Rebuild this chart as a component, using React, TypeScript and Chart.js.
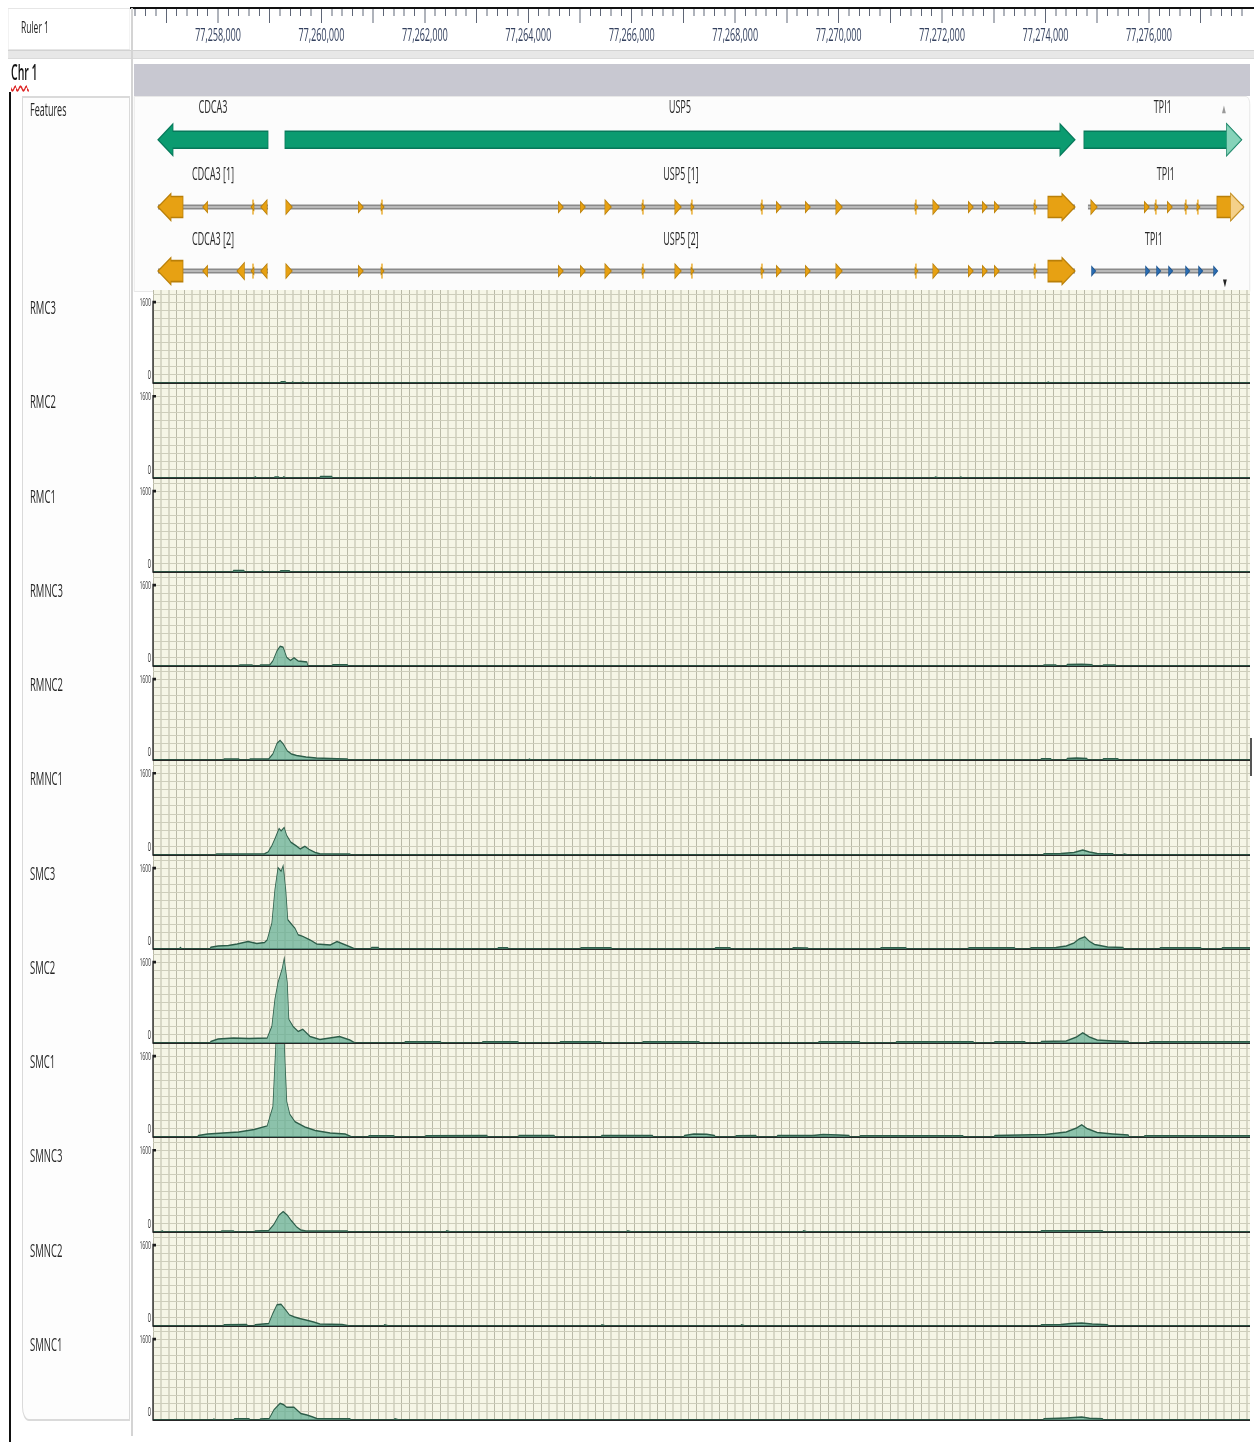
import React, { useEffect, useRef } from 'react';
import { Chart, registerables } from 'chart.js';

Chart.register(...registerables);

// The reference screenshot is horizontally condensed; we lay out in "inner" pixels and squeeze.
const K = 0.5;
const sx = (x: number) => x / K;
const FONT = "'Open Sans', 'Noto Sans', 'DejaVu Sans', sans-serif";
Chart.defaults.font.family = FONT;

// ---------------- data ----------------
const BASE = 77256000; // coverage positions are kb offsets from here
const X_MIN_FULL = 77256376;
const X_MIN_TRACK = 77256743;
const X_MAX = 77277954;

const RULER_LABELS = [77258000, 77260000, 77262000, 77264000, 77266000, 77268000, 77270000, 77272000, 77274000, 77276000];
const RULER_MINOR_STEP = 200;
const RULER_MAJOR_STEP = 1000;

const Y_MAX = 1840;
const Y_LABELS = [0, 1600];
const Y_GRID_STEP = 160;
const X_GRID_STEP = 150;

// genes
const GENE_NAMES = ['CDCA3', 'USP5', 'TPI1'];
const GENE_START = [77256840, 77259295, 77274743];
const GENE_END = [77258967, 77274569, 77277790];
const GENE_STRAND = [-1, 1, 1];
const GENE_FADED = [false, false, true];

// transcripts
const TX_LABELS = ['CDCA3 [1]', 'USP5 [1]', 'TPI1', 'CDCA3 [2]', 'USP5 [2]', 'TPI1'];
const TX_ROW = [1, 1, 1, 2, 2, 2];
const TX_START = [77256840, 77259334, 77274821, 77256840, 77259334, 77274917];
const TX_END = [77258967, 77274569, 77277830, 77258967, 77274569, 77277276];
const TX_STRAND = [-1, 1, 1, -1, 1, 1];
const TX_BLUE = [false, false, false, false, false, true];
const TX_BLOCK_START = [77256840, 77274047, 77277315, 77256840, 77274047, null];
const TX_BLOCK_END = [77257323, 77274569, 77277830, 77257323, 77274569, null];
const TX_BLOCK_FADED = [false, false, true, false, false, false];

type Ex = [number, string];
const EX_CDCA3_1: Ex[] = [[77257768, 't'], [77258677, '|'], [77258909, 'T']];
const EX_CDCA3_2: Ex[] = [[77257768, 't'], [77258464, 'B'], [77258677, '|'], [77258909, 'T']];
const EX_USP5: Ex[] = [
  [77259353, 'T'], [77260745, 't'], [77261171, '|'], [77264612, 't'], [77265038, 't'], [77265521, 'T'],
  [77266217, '|'], [77266874, 'T'], [77267164, '|'], [77268518, '|'], [77268827, 't'], [77269388, 't'],
  [77269987, 'T'], [77271495, '|'], [77271862, 'T'], [77272539, 't'], [77272810, 't'], [77273042, 't'],
  [77273796, '|'],
];
const EX_TPI1_1: Ex[] = [[77274917, 'T'], [77275942, 't'], [77276135, '|'], [77276387, 't'], [77276715, '|'], [77276947, '|']];
const EX_TPI1_2: Ex[] = [[77274917, 's'], [77275961, 's'], [77276174, 's'], [77276406, 's'], [77276735, 's'], [77276986, 's'], [77277276, 's']];
const TX_EXONS = [EX_CDCA3_1, EX_USP5, EX_TPI1_1, EX_CDCA3_2, EX_USP5, EX_TPI1_2];

// coverage tracks: [kb offset from BASE, coverage]
type Pt = [number, number];
const RMC3: Pt[] = [[0.74,0],[3.20,0],[3.22,25],[3.30,25],[3.32,0],[3.42,0],[3.44,20],[3.48,0],[3.62,0],[3.64,18],[3.67,0],[18.03,0],[18.05,20],[18.09,0],[21.96,0]];
const RMC2: Pt[] = [[0.74,0],[2.70,0],[2.72,25],[2.75,0],[3.08,0],[3.10,20],[3.17,20],[3.19,0],[3.25,0],[3.27,22],[3.31,0],[3.96,0],[3.98,30],[4.20,30],[4.22,0],[9.18,0],[9.20,18],[9.23,0],[15.85,0],[15.87,20],[15.93,0],[16.34,0],[16.36,18],[16.40,0],[21.96,0]];
const RMC1: Pt[] = [[0.74,0],[2.28,0],[2.30,28],[2.50,28],[2.52,0],[2.84,0],[2.86,22],[2.89,0],[3.19,0],[3.21,25],[3.38,25],[3.40,0],[21.96,0]];
const RMNC3: Pt[] = [[0.74,0],[2.40,0],[2.42,22],[2.66,22],[2.68,0],[2.80,0],[2.82,20],[3.00,20],[3.06,100],[3.14,300],[3.20,390],[3.26,370],[3.33,170],[3.40,110],[3.47,160],[3.55,100],[3.72,80],[3.74,0],[4.20,0],[4.22,25],[4.50,25],[4.52,0],[17.95,0],[17.97,20],[18.20,20],[18.22,0],[18.40,0],[18.42,30],[18.70,35],[18.90,25],[18.92,0],[19.10,0],[19.12,20],[19.35,20],[19.37,0],[21.96,0]];
const RMNC2: Pt[] = [[0.74,0],[2.10,0],[2.12,20],[2.40,20],[2.42,0],[2.60,0],[2.62,20],[2.98,20],[3.06,120],[3.14,330],[3.20,390],[3.26,320],[3.34,180],[3.42,120],[3.52,90],[3.70,60],[3.90,40],[4.30,25],[4.50,20],[4.52,0],[8.00,0],[8.02,18],[8.05,0],[17.90,0],[17.92,25],[18.10,25],[18.12,0],[18.40,0],[18.42,30],[18.60,40],[18.80,30],[18.82,0],[19.10,0],[19.12,25],[19.40,25],[19.42,0],[21.96,0]];
const RMNC1: Pt[] = [[0.74,0],[1.95,0],[1.97,20],[2.90,25],[2.97,60],[3.04,180],[3.10,320],[3.18,520],[3.22,470],[3.28,540],[3.33,380],[3.41,250],[3.51,180],[3.59,120],[3.68,170],[3.76,110],[3.88,50],[3.97,25],[4.55,20],[4.57,0],[17.95,0],[17.97,25],[18.30,30],[18.55,50],[18.72,100],[18.85,60],[19.00,30],[19.30,25],[19.32,0],[19.50,0],[19.52,20],[19.60,0],[21.96,0]];
const SMC3: Pt[] = [[0.74,0],[1.25,0],[1.27,30],[1.30,0],[1.84,0],[1.86,35],[2.00,60],[2.20,70],[2.37,100],[2.58,150],[2.75,110],[2.90,130],[2.95,180],[3.04,510],[3.10,1180],[3.16,1610],[3.22,1540],[3.26,1650],[3.31,1180],[3.35,580],[3.43,480],[3.49,410],[3.55,280],[3.64,250],[3.78,180],[3.91,100],[4.17,80],[4.30,150],[4.42,100],[4.55,45],[4.65,0],[4.95,0],[4.97,30],[5.10,30],[5.12,0],[7.40,0],[7.42,25],[7.60,25],[7.62,0],[9.00,0],[9.02,25],[9.60,25],[9.62,0],[11.60,0],[11.62,25],[11.90,25],[11.92,0],[13.10,0],[13.12,25],[13.40,20],[13.42,0],[14.80,0],[14.82,25],[15.30,25],[15.32,0],[16.50,0],[16.52,25],[17.40,25],[17.42,0],[17.70,0],[17.72,25],[18.20,30],[18.40,60],[18.55,120],[18.65,200],[18.76,240],[18.85,150],[18.95,90],[19.20,40],[19.50,30],[19.52,0],[20.20,0],[20.22,25],[21.00,25],[21.02,0],[21.40,0],[21.42,25],[21.96,25]];
const SMC2: Pt[] = [[0.74,0],[1.84,0],[1.86,30],[2.00,80],[2.30,100],[2.60,90],[2.95,100],[3.04,330],[3.10,870],[3.16,1200],[3.24,1470],[3.28,1680],[3.34,1200],[3.37,470],[3.45,330],[3.55,230],[3.64,270],[3.78,130],[3.97,70],[4.35,130],[4.55,60],[4.65,0],[5.60,0],[5.62,25],[6.30,25],[6.32,0],[7.10,0],[7.12,25],[7.80,25],[7.82,0],[8.60,0],[8.62,25],[9.40,25],[9.42,0],[10.20,0],[10.22,25],[11.30,25],[11.32,0],[13.60,0],[13.62,25],[14.40,25],[14.42,0],[15.10,0],[15.12,25],[16.60,25],[16.62,0],[17.00,0],[17.02,25],[17.60,25],[17.62,0],[17.90,0],[17.92,30],[18.40,40],[18.60,120],[18.72,200],[18.85,120],[19.00,60],[19.30,40],[19.60,30],[19.62,0],[20.00,0],[20.02,25],[21.96,25]];
const SMC1: Pt[] = [[0.74,0],[1.60,0],[1.62,30],[1.80,60],[2.10,80],[2.40,100],[2.70,150],[2.95,220],[3.06,600],[3.12,1900],[3.28,1900],[3.33,700],[3.39,450],[3.49,300],[3.68,200],[3.88,130],[4.17,80],[4.46,60],[4.59,0],[4.90,0],[4.92,25],[5.40,25],[5.42,0],[6.00,0],[6.02,25],[7.20,30],[7.22,0],[7.80,0],[7.82,30],[8.50,30],[8.52,0],[9.40,0],[9.42,30],[10.40,30],[10.42,0],[11.00,0],[11.02,30],[11.20,60],[11.45,55],[11.60,30],[11.62,0],[12.00,0],[12.02,25],[12.40,30],[12.42,0],[12.80,0],[12.82,30],[13.50,30],[13.70,50],[14.00,40],[14.20,30],[14.22,0],[14.40,0],[14.42,25],[16.40,25],[16.42,0],[17.00,0],[17.02,30],[18.00,50],[18.40,100],[18.60,180],[18.70,240],[18.80,170],[19.00,90],[19.30,60],[19.60,40],[19.62,0],[19.90,0],[19.92,25],[21.96,25]];
const SMNC3: Pt[] = [[0.74,0],[0.90,0],[0.92,25],[0.95,0],[2.05,0],[2.07,20],[2.30,20],[2.32,0],[2.70,0],[2.72,20],[2.98,30],[3.08,150],[3.18,330],[3.26,400],[3.34,330],[3.42,220],[3.52,100],[3.60,40],[3.70,20],[4.50,20],[4.52,0],[6.40,0],[6.42,22],[6.50,0],[9.90,0],[9.92,22],[10.00,0],[13.30,0],[13.32,22],[13.40,0],[17.90,0],[17.92,25],[19.10,25],[19.12,0],[21.96,0]];
const SMNC2: Pt[] = [[0.74,0],[2.10,0],[2.12,25],[2.55,30],[2.58,0],[2.70,0],[2.72,25],[2.98,50],[3.06,250],[3.14,420],[3.22,430],[3.30,330],[3.38,220],[3.48,180],[3.58,150],[3.70,120],[3.85,80],[3.97,40],[4.40,30],[4.55,0],[5.20,0],[5.22,22],[5.30,0],[9.40,0],[9.42,22],[9.50,0],[12.10,0],[12.12,22],[12.20,0],[17.90,0],[17.92,25],[18.30,30],[18.50,50],[18.70,60],[18.90,40],[19.20,25],[19.22,0],[21.96,0]];
const SMNC1: Pt[] = [[0.74,0],[1.90,0],[1.92,20],[1.95,0],[2.30,0],[2.32,25],[2.60,25],[2.62,0],[2.80,0],[2.82,20],[2.99,30],[3.08,200],[3.20,330],[3.27,300],[3.33,250],[3.47,250],[3.60,130],[3.72,100],[3.82,65],[3.91,30],[4.55,25],[4.57,0],[5.40,0],[5.42,22],[5.50,0],[17.95,0],[17.97,25],[18.40,40],[18.70,60],[18.85,35],[19.10,25],[19.12,0],[21.96,0]];

const TRACK_NAMES = ['RMC3', 'RMC2', 'RMC1', 'RMNC3', 'RMNC2', 'RMNC1', 'SMC3', 'SMC2', 'SMC1', 'SMNC3', 'SMNC2', 'SMNC1'];
const TRACK_DATA: Pt[][] = [RMC3, RMC2, RMC1, RMNC3, RMNC2, RMNC1, SMC3, SMC2, SMC1, SMNC3, SMNC2, SMNC1];

// ---------------- layout (reference pixels) ----------------
const PLOT_LEFT = 134;
const PLOT_RIGHT = 1250;
const TRACK_TOP0 = 290;
const TRACK_PITCH = 94.27;
const FEAT_TOP = 96;
const FEAT_H = 196;
const ROW_Y = [0.67, 1.7, 2.68];
const ROW_LABEL_Y = [0.18, 1.21, 2.2];

const GREEN = '#0b9b70', GREEN_D = '#07785a', GREEN_L = '#86d3b9';
const ORANGE = '#e7a113', ORANGE_D = '#b97f08', ORANGE_L = '#f4d08a';
const BLUE = '#2a6db3';
const TEXT = '#262626';

const fmt = (v: number) => String(v).replace(/\B(?=(\d{3})+(?!\d))/g, ',');

function ChartCanvas({ left, top, width, height, build }: { left: number; top: number; width: number; height: number; build: () => any }) {
  const ref = useRef<HTMLCanvasElement>(null);
  useEffect(() => {
    const chart = new Chart(ref.current as HTMLCanvasElement, build());
    return () => chart.destroy();
  }, []);
  return (
    <canvas
      ref={ref}
      width={Math.round(width)}
      height={height}
      style={{ position: 'absolute', left, top, width: Math.round(width), height }}
    />
  );
}

const baseOptions = {
  animation: false,
  responsive: false,
  maintainAspectRatio: false,
  devicePixelRatio: 1,
  events: [],
  plugins: { legend: { display: false }, tooltip: { enabled: false } },
};

function rulerConfig() {
  return {
    type: 'scatter',
    data: { datasets: [] },
    options: {
      ...baseOptions,
      layout: { padding: 0, autoPadding: false },
      scales: {
        x: {
          type: 'linear',
          position: 'bottom',
          min: X_MIN_FULL,
          max: X_MAX,
          afterBuildTicks: (s: any) => {
            const t: any[] = [];
            for (let v = Math.ceil(X_MIN_FULL / RULER_MINOR_STEP) * RULER_MINOR_STEP; v <= X_MAX; v += RULER_MINOR_STEP) t.push({ value: v });
            s.ticks = t;
          },
          afterFit: (s: any) => { s.height = 35; },
          ticks: {
            autoSkip: false,
            maxRotation: 0,
            minRotation: 0,
            padding: 2,
            color: '#33405e',
            font: { size: 18, family: FONT },
            callback: (v: any) => (RULER_LABELS.includes(Number(v)) ? fmt(Number(v)) : ''),
          },
          grid: {
            color: '#5f6676',
            lineWidth: 2,
            tickLength: 7,
            tickWidth: 2,
            tickColor: (c: any) => (c.tick && c.tick.value % RULER_MAJOR_STEP === 0 ? '#5f6676' : 'rgba(0,0,0,0)'),
          },
          border: { display: false },
        },
        y: { display: false, min: 0, max: 1 },
      },
    },
  };
}

function arrowPath(ctx: CanvasRenderingContext2D, x1: number, x2: number, yc: number, hb: number, hh: number, L: number, strand: number) {
  ctx.beginPath();
  if (strand > 0) {
    const b = Math.max(x1, x2 - L);
    ctx.moveTo(x1, yc - hb); ctx.lineTo(b, yc - hb); ctx.lineTo(b, yc - hh); ctx.lineTo(x2, yc);
    ctx.lineTo(b, yc + hh); ctx.lineTo(b, yc + hb); ctx.lineTo(x1, yc + hb);
  } else {
    const b = Math.min(x2, x1 + L);
    ctx.moveTo(x2, yc - hb); ctx.lineTo(b, yc - hb); ctx.lineTo(b, yc - hh); ctx.lineTo(x1, yc);
    ctx.lineTo(b, yc + hh); ctx.lineTo(b, yc + hb); ctx.lineTo(x2, yc + hb);
  }
  ctx.closePath();
}

function drawArrow(ctx: CanvasRenderingContext2D, x1: number, x2: number, yc: number, hb: number, hh: number, L: number, strand: number, fill: string, stroke: string, faded: boolean, light: string) {
  arrowPath(ctx, x1, x2, yc, hb, hh, L, strand);
  ctx.fillStyle = fill; ctx.fill();
  ctx.strokeStyle = stroke; ctx.lineWidth = 1.6; ctx.stroke();
  if (faded) {
    const b = strand > 0 ? x2 - L : x1 + L;
    const tip = strand > 0 ? x2 : x1;
    ctx.beginPath(); ctx.moveTo(b, yc - hh); ctx.lineTo(tip, yc); ctx.lineTo(b, yc + hh); ctx.closePath();
    ctx.fillStyle = light; ctx.fill();
    ctx.strokeStyle = stroke; ctx.globalAlpha = 0.4; ctx.stroke(); ctx.globalAlpha = 1;
  }
}

const featurePlugin = {
  id: 'features',
  beforeDatasetsDraw(chart: any) {
    const { ctx, scales: { x, y } } = chart;
    ctx.save();
    for (let i = 0; i < GENE_NAMES.length; i++) {
      drawArrow(ctx, x.getPixelForValue(GENE_START[i]), x.getPixelForValue(GENE_END[i]), y.getPixelForValue(ROW_Y[0]),
        8.5, 16, sx(15), GENE_STRAND[i], GREEN, GREEN_D, GENE_FADED[i], GREEN_L);
    }
    ctx.restore();
  },
  afterDatasetsDraw(chart: any) {
    const { ctx, scales: { x, y } } = chart;
    ctx.save();
    for (let i = 0; i < TX_LABELS.length; i++) {
      const bs = TX_BLOCK_START[i], be = TX_BLOCK_END[i];
      if (bs == null || be == null) continue;
      drawArrow(ctx, x.getPixelForValue(bs), x.getPixelForValue(be), y.getPixelForValue(ROW_Y[TX_ROW[i]]),
        10.5, 13.5, sx(13), TX_STRAND[i], ORANGE, ORANGE_D, TX_BLOCK_FADED[i], ORANGE_L);
    }
    ctx.font = `18px ${FONT}`;
    ctx.fillStyle = TEXT;
    ctx.textAlign = 'center';
    ctx.textBaseline = 'middle';
    for (let i = 0; i < GENE_NAMES.length; i++) {
      ctx.fillText(GENE_NAMES[i], x.getPixelForValue((GENE_START[i] + GENE_END[i]) / 2), y.getPixelForValue(ROW_LABEL_Y[0]));
    }
    for (let i = 0; i < TX_LABELS.length; i++) {
      ctx.fillText(TX_LABELS[i], x.getPixelForValue((TX_START[i] + TX_END[i]) / 2), y.getPixelForValue(ROW_LABEL_Y[TX_ROW[i]]));
    }
    ctx.restore();
  },
};

function markerPoints(exons: Ex[], row: number, strand: number) {
  const pts: any[] = [];
  const rot = strand > 0 ? 90 : -90;
  for (const [pos, kind] of exons) {
    if (kind === '|') {
      pts.push({ x: pos, y: row, s: 'line', r: 7.5, rot: 90 });
      pts.push({ x: pos, y: row, s: 'triangle', r: 4, rot });
    } else {
      const r = kind === 'B' ? 10 : kind === 'T' ? 8.5 : kind === 's' ? 5.5 : 6.5;
      pts.push({ x: pos, y: row, s: 'triangle', r, rot });
    }
  }
  return pts;
}

function featureConfig() {
  const datasets: any[] = [];
  for (let i = 0; i < TX_LABELS.length; i++) {
    const row = ROW_Y[TX_ROW[i]];
    const line = [{ x: TX_START[i], y: row }, { x: TX_END[i], y: row }];
    datasets.push({ data: line, showLine: true, pointRadius: 0, borderColor: '#8a8a8a', borderWidth: 5, order: 3 });
    datasets.push({ data: line, showLine: true, pointRadius: 0, borderColor: '#b9b9b9', borderWidth: 2, order: 2 });
    const col = TX_BLUE[i] ? BLUE : ORANGE;
    const colD = TX_BLUE[i] ? '#1d5590' : ORANGE_D;
    datasets.push({
      data: markerPoints(TX_EXONS[i], row, TX_STRAND[i]),
      showLine: false,
      order: 1,
      pointStyle: (c: any) => (c.raw ? c.raw.s : 'triangle'),
      pointRadius: (c: any) => (c.raw ? c.raw.r : 5),
      pointRotation: (c: any) => (c.raw ? c.raw.rot : 90),
      pointBackgroundColor: col,
      pointBorderColor: (c: any) => (c.raw && c.raw.s === 'line' ? col : colD),
      pointBorderWidth: (c: any) => (c.raw && c.raw.s === 'line' ? 2.6 : 1.2),
    });
  }
  return {
    type: 'scatter',
    data: { datasets },
    options: {
      ...baseOptions,
      layout: { padding: 0, autoPadding: false },
      scales: {
        x: { type: 'linear', display: false, min: X_MIN_FULL, max: X_MAX },
        y: { type: 'linear', display: false, min: 0, max: 3, reverse: true },
      },
    },
    plugins: [featurePlugin],
  };
}

const trackPlugin = {
  id: 'trackDecor',
  beforeDraw(chart: any) {
    const { ctx, chartArea: a } = chart;
    ctx.save();
    ctx.fillStyle = '#f5f5e6';
    ctx.fillRect(a.left, a.top, a.right - a.left, a.bottom - a.top);
    ctx.restore();
  },
  afterDraw(chart: any) {
    const { ctx, chartArea: a, scales: { y } } = chart;
    const p0 = y.getPixelForValue(Y_LABELS[0]);
    const p1 = y.getPixelForValue(Y_LABELS[1]);
    ctx.save();
    ctx.strokeStyle = '#1c1c1c';
    ctx.lineWidth = 2.6;
    ctx.beginPath();
    ctx.moveTo(a.left + 6, p1); ctx.lineTo(a.left, p1); ctx.lineTo(a.left, p0);
    ctx.stroke();
    ctx.fillStyle = '#333';
    ctx.font = `10px ${FONT}`;
    ctx.textAlign = 'right';
    ctx.textBaseline = 'middle';
    ctx.fillText(String(Y_LABELS[1]), a.left - 4, p1 + 1);
    ctx.font = `12px ${FONT}`;
    ctx.textBaseline = 'bottom';
    ctx.fillText(String(Y_LABELS[0]), a.left - 4, p0 - 1);
    ctx.restore();
  },
};

function trackConfig(pts: Pt[]) {
  return {
    type: 'line',
    data: {
      datasets: [{
        data: pts.map(([kb, v]) => ({ x: BASE + kb * 1000, y: v })),
        borderColor: '#2c5c48',
        borderWidth: 1.5,
        backgroundColor: 'rgba(100,175,148,0.72)',
        fill: 'origin',
        pointRadius: 0,
        tension: 0,
      }],
    },
    options: {
      ...baseOptions,
      layout: { padding: { top: 0, right: 0, bottom: 1, left: 0 }, autoPadding: false },
      scales: {
        x: {
          type: 'linear',
          min: X_MIN_TRACK,
          max: X_MAX,
          afterBuildTicks: (s: any) => {
            const t: any[] = [];
            for (let v = Math.ceil(X_MIN_TRACK / X_GRID_STEP) * X_GRID_STEP; v <= X_MAX; v += X_GRID_STEP) t.push({ value: v });
            s.ticks = t;
          },
          ticks: { display: false },
          grid: { color: '#b9b9a7', lineWidth: 2, drawTicks: false },
          border: { display: true, color: '#262626', width: 2 },
        },
        y: {
          min: 0,
          max: Y_MAX,
          afterBuildTicks: (s: any) => {
            const t: any[] = [];
            for (let v = 0; v <= Y_MAX; v += Y_GRID_STEP) t.push({ value: v });
            s.ticks = t;
          },
          afterFit: (s: any) => { s.width = sx(19); },
          ticks: { display: false },
          grid: { color: '#cdcdbb', lineWidth: 1, drawTicks: false },
          border: { display: false },
        },
      },
    },
    plugins: [trackPlugin],
  };
}

const Box = ({ l, t, w, h, style }: { l: number; t: number; w: number; h: number; style?: any }) => (
  <div style={{ position: 'absolute', left: sx(l), top: t, width: sx(w), height: h, boxSizing: 'border-box', ...style }} />
);

const Txt = ({ l, t, size, children, style }: { l: number; t: number; size: number; children: any; style?: any }) => (
  <div style={{ position: 'absolute', left: sx(l), top: t, fontSize: size, lineHeight: '22px', color: TEXT, whiteSpace: 'nowrap', ...style }}>{children}</div>
);

export default function App() {
  const tops = TRACK_NAMES.map((_, i) => Math.round(TRACK_TOP0 + i * TRACK_PITCH));
  const nextTop = Math.round(TRACK_TOP0 + TRACK_NAMES.length * TRACK_PITCH);
  return (
    <div style={{ position: 'fixed', left: 0, top: 0, width: 1254, height: 1442, overflow: 'hidden', background: '#fff' }}>
      <div style={{ position: 'absolute', left: 0, top: 0, width: sx(1254), height: 1442, transform: `scaleX(${K})`, transformOrigin: '0 0', fontFamily: FONT }}>
        {/* ruler header */}
        <Box l={8} t={8} w={122} h={42} style={{ background: '#fff', border: '1px solid #e6e6e6' }} />
        <Txt l={21} t={16} size={17}>Ruler 1</Txt>
        <Box l={130} t={7} w={1124} h={2} style={{ background: '#111' }} />
        <Box l={8} t={50} w={1246} h={9} style={{ background: '#e7e7e7', borderTop: '1px solid #d2d2d2', borderBottom: '1px solid #dadada' }} />
        {/* chromosome row */}
        <Txt l={11} t={61} size={21} style={{ color: '#111', fontWeight: 600 }}>
          <span style={{ textDecoration: 'underline wavy #d22', textUnderlineOffset: '5px' }}>Chr</span> 1
        </Txt>
        <Box l={134} t={64} w={1116} h={32} style={{ background: '#c8c8d1' }} />
        {/* separators and frame */}
        <Box l={131} t={8} w={2} h={1428} style={{ background: '#d4d4d4' }} />
        <Box l={9} t={92} w={2} h={1350} style={{ background: '#111' }} />
        <Box l={22} t={96} w={108} h={1325} style={{ background: '#fdfdfd', border: '2px solid #dadada', borderBottomLeftRadius: 14 }} />
        <Txt l={30} t={98} size={18}>Features</Txt>
        <Box l={134} t={96} w={1116} h={196} style={{ background: '#fcfcfc', border: '1px solid #e2e2e2', borderTopRightRadius: 8 }} />
        <Box l={1250} t={738} w={2} h={38} style={{ background: '#555' }} />
        {TRACK_NAMES.map((n, i) => (
          <Txt key={n} l={30} t={tops[i] + 6} size={19}>{n}</Txt>
        ))}
        {/* charts */}
        <ChartCanvas left={sx(PLOT_LEFT)} top={9} width={sx(PLOT_RIGHT - PLOT_LEFT)} height={42} build={rulerConfig} />
        <ChartCanvas left={sx(PLOT_LEFT)} top={FEAT_TOP} width={sx(PLOT_RIGHT - PLOT_LEFT)} height={FEAT_H} build={featureConfig} />
        {TRACK_DATA.map((d, i) => (
          <ChartCanvas
            key={TRACK_NAMES[i]}
            left={sx(PLOT_LEFT)}
            top={tops[i]}
            width={sx(PLOT_RIGHT - PLOT_LEFT)}
            height={(i + 1 < tops.length ? tops[i + 1] : nextTop) - tops[i]}
            build={() => trackConfig(d)}
          />
        ))}
        <Txt l={1222} t={97} size={10} style={{ color: '#9a9a9a' }}>▲</Txt>
        <Txt l={1223} t={271} size={10} style={{ color: '#222' }}>▼</Txt>
      </div>
    </div>
  );
}
